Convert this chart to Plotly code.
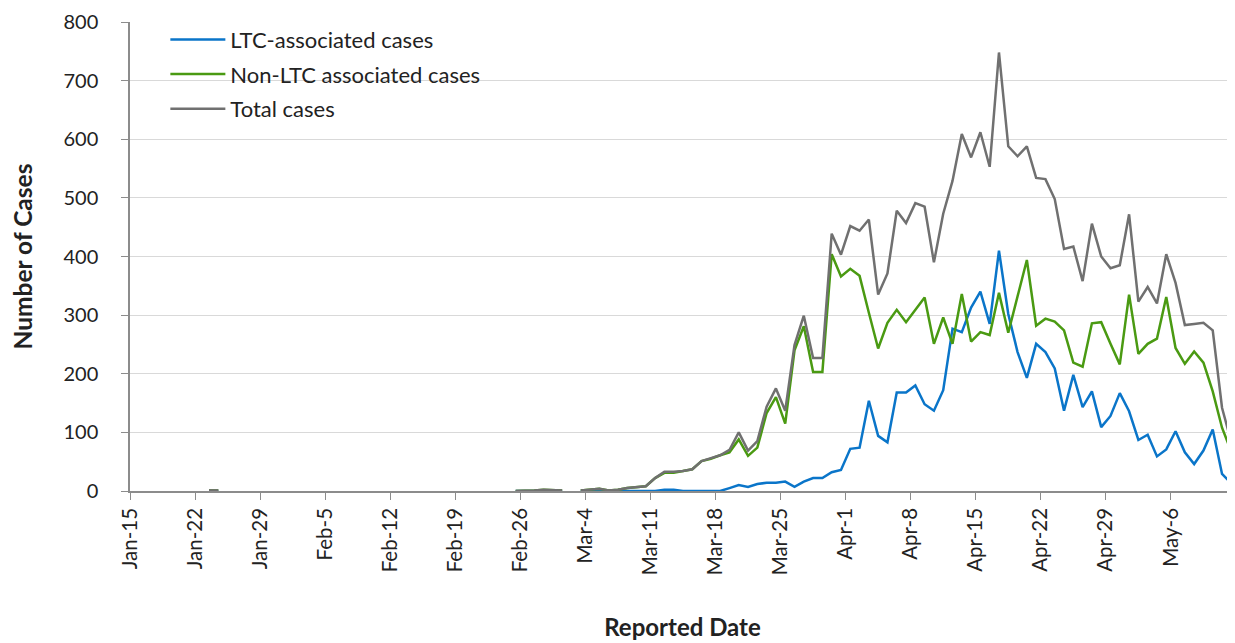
import pandas as pd
import plotly.graph_objects as go

# Reported dates: Jan-23 .. May-12, 2020 (one value per day, None = no data)
reported_dates = pd.date_range("2020-01-23", "2020-05-12", freq="D")

jan_vals_total = [1, 1]
jan_vals_ltc = [0, 0]
jan_vals_non = [1, 1]
gap_jan_feb = [None] * 31          # Jan-25 .. Feb-24: no data
feb_vals_total = [0, 0, 1, 2, 2, 1]  # Feb-25 .. Mar-1
feb_vals_ltc = [0, 0, 0, 0, 0, 0]
feb_vals_non = [0, 0, 1, 2, 2, 1]
gap_mar2 = [None]                   # Mar-2: no data

# Mar-3 .. May-12
total_main = [
    1, 2, 4, 1, 2, 5, 6, 8, 22, 33, 33, 34, 37, 51, 56, 61, 70, 100,
    69, 85, 144, 175, 137, 249, 299, 227, 227, 439, 403,
    452, 444, 463, 335, 371, 478, 457, 491, 485, 390, 473, 529, 609, 569, 612,
    553, 748, 588, 571, 588, 534, 532, 498, 413, 417, 358, 456, 400, 380, 385,
    472, 323, 348, 320, 404, 355, 283, 285, 287, 274, 142, 83,
]
ltc_main = [
    0, 0, 0, 0, 0, 0, 0, 0, 0, 2, 2, 0, 0, 0, 1, 0, 5, 10,
    7, 12, 14, 14, 16, 7, 16, 22, 22, 32, 36,
    72, 74, 154, 94, 83, 168, 168, 180, 148, 137, 172, 277, 271, 313, 340,
    285, 410, 302, 237, 193, 251, 237, 209, 137, 198, 143, 170, 109, 128, 167,
    136, 87, 96, 59, 71, 102, 66, 46, 69, 105, 29, 13,
]
non_ltc_main = [
    1, 2, 4, 1, 2, 5, 6, 8, 22, 31, 31, 34, 37, 51, 55, 61, 66, 88,
    60, 74, 133, 160, 115, 240, 281, 203, 203, 404, 366,
    379, 367, 304, 243, 287, 309, 288, 310, 330, 251, 296, 251, 336, 255, 271,
    266, 338, 270, 333, 394, 282, 294, 289, 274, 219, 212, 286, 288, 251, 216,
    335, 234, 251, 260, 331, 244, 217, 238, 219, 170, 108, 67,
]

ltc_cases = jan_vals_ltc + gap_jan_feb + feb_vals_ltc + gap_mar2 + ltc_main
non_ltc_cases = jan_vals_non + gap_jan_feb + feb_vals_non + gap_mar2 + non_ltc_main
total_cases = jan_vals_total + gap_jan_feb + feb_vals_total + gap_mar2 + total_main

tick_dates = pd.date_range("2020-01-15", "2020-05-06", freq="7D")
tick_labels = [f"{d.strftime('%b')}-{d.day}" for d in tick_dates]

# points sit in the middle of each day (between tick marks)
x_pts = reported_dates + pd.Timedelta(hours=12)

series = [
    ("LTC-associated cases", ltc_cases, "#0A75C9"),
    ("Non-LTC associated cases", non_ltc_cases, "#4A9A12"),
    ("Total cases", total_cases, "#707070"),
]

fig = go.Figure()
for i, (name, vals, col) in enumerate(series):
    fig.add_trace(go.Scatter(
        x=x_pts, y=vals, name=name, mode="lines",
        line=dict(color=col, width=2.5),
        connectgaps=False, legendgroup=f"g{i}",
    ))

font_family = "Lato, 'Noto Sans', sans-serif"
fig.update_layout(
    width=1227, height=635,
    margin=dict(l=122, r=0, t=14, b=152, autoexpand=False),
    paper_bgcolor="white", plot_bgcolor="white",
    font=dict(family=font_family, color="#222222", size=18),
    showlegend=True,
    legend=dict(
        x=0.032, y=1.007, xanchor="left", yanchor="top",
        bgcolor="rgba(255,255,255,0)", font=dict(size=22, color="#222222"),
        tracegroupgap=3, itemwidth=55,
    ),
    xaxis=dict(
        range=[pd.Timestamp("2020-01-15"), pd.Timestamp("2020-05-12 21:30")],
        tickmode="array", tickvals=tick_dates, ticktext=tick_labels,
        tickangle=-90, tickfont=dict(size=20.5),
        ticks="outside", ticklen=7, tickcolor="#8c8c8c",
        showline=True, linecolor="#8c8c8c", linewidth=1.5,
        showgrid=False, zeroline=False, ticklabeloverflow="allow",
        automargin=False,
        title=dict(text="<b>Reported Date</b>", font=dict(size=24), standoff=45),
    ),
    yaxis=dict(
        range=[0, 800], dtick=100,
        tickfont=dict(size=20),
        ticks="outside", ticklen=7, tickcolor="#8c8c8c",
        showline=True, linecolor="#8c8c8c", linewidth=1.5,
        showgrid=True, gridcolor="#d9d9d9", gridwidth=1,
        zeroline=False, ticklabelstandoff=19, ticklabeloverflow="allow",
        automargin=False,
        title=dict(text="<b>Number of Cases</b>", font=dict(size=24.5), standoff=24),
    ),
)

fig.write_html("out.html")
